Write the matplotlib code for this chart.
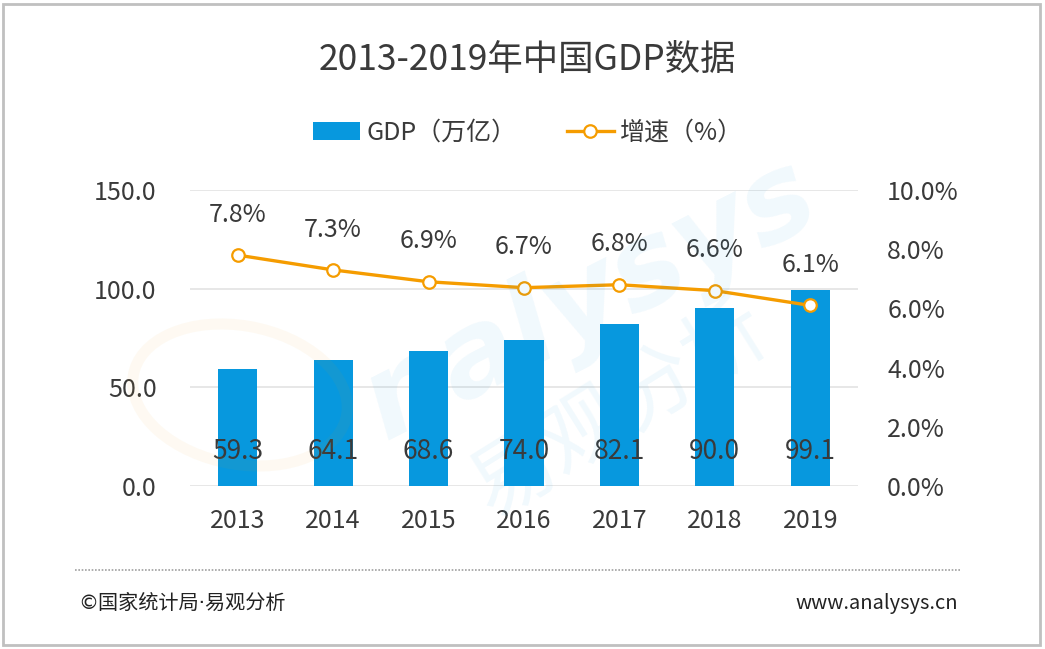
import matplotlib
matplotlib.use("Agg")
import matplotlib.pyplot as plt
from matplotlib.patches import Rectangle, Patch, Ellipse
from matplotlib.lines import Line2D
from matplotlib.ticker import FuncFormatter

plt.rcParams['font.family'] = ['Noto Sans CJK SC', 'DejaVu Sans']

years = ['2013', '2014', '2015', '2016', '2017', '2018', '2019']
gdp = [59.3, 64.1, 68.6, 74.0, 82.1, 90.0, 99.1]
growth = [7.8, 7.3, 6.9, 6.7, 6.8, 6.6, 6.1]
left_ticks = [0, 50, 100, 150]
right_ticks = [0, 2, 4, 6, 8, 10]

BLUE = '#0798DE'
ORANGE = '#F59C00'
TXT = '#3a3a3a'
W, H = 1045, 649

fig = plt.figure(figsize=(W / 100, H / 100), dpi=100)
fig.patch.set_facecolor('white')

def fx(px):
    return px / W

def fy(py):
    return 1 - py / H

ax = fig.add_axes([fx(190), fy(486), fx(858) - fx(190), fy(190) - fy(486)])
ax.set_facecolor('none')

# faint watermark
fig.text(fx(590), fy(300), 'nalysys', fontsize=84, rotation=27, color=BLUE, alpha=0.06,
         ha='center', va='center', style='italic', weight='bold', family=['DejaVu Sans'], zorder=0)
fig.text(fx(620), fy(410), '易观分析', fontsize=60, rotation=32, color=BLUE, alpha=0.06,
         ha='center', va='center', zorder=0)
fig.patches.append(Ellipse((fx(240), fy(395)), fx(200) - fx(0), fy(0) - fy(150), angle=35,
                           transform=fig.transFigure, fill=False, edgecolor=ORANGE,
                           alpha=0.05, lw=8, zorder=0))

x = list(range(len(years)))
ax.bar(x, gdp, width=0.41, color=BLUE, zorder=3)
ax.set_xlim(-0.5, len(years) - 0.5)
ax.set_ylim(0, 150)
ax.set_yticks(left_ticks)
ax.yaxis.set_major_formatter(FuncFormatter(lambda v, p: f'{v:.1f}'))
ax.set_xticks(x)
ax.set_xticklabels(years)
ax.grid(axis='y', color='#e3e3e3', lw=1.2, zorder=0)
ax.set_axisbelow(True)
for s in ax.spines.values():
    s.set_visible(False)
ax.tick_params(axis='both', length=0, labelsize=18, colors=TXT)
ax.tick_params(axis='y', pad=24)
ax.tick_params(axis='x', pad=16)

for i, v in enumerate(gdp):
    ax.annotate(f'{v:.1f}', xy=(i, 0), xytext=(0, 24.5), textcoords='offset points',
                ha='center', va='center', fontsize=19, color=TXT, zorder=5)

ax2 = ax.twinx()
ax2.set_ylim(0, 10)
ax2.set_yticks(right_ticks)
ax2.yaxis.set_major_formatter(FuncFormatter(lambda v, p: f'{v:.1f}%'))
for s in ax2.spines.values():
    s.set_visible(False)
ax2.tick_params(axis='y', length=0, labelsize=18, colors=TXT, pad=21)
ax2.plot(x, growth, color=ORANGE, lw=2.4, marker='o', markersize=9,
         markerfacecolor='white', markeredgecolor=ORANGE, markeredgewidth=1.6, zorder=4)
for i, v in enumerate(growth):
    ax2.annotate(f'{v:.1f}%', xy=(i, v), xytext=(0, 29), textcoords='offset points',
                 ha='center', va='center', fontsize=18, color=TXT)

fig.text(fx(527), fy(60), '2013-2019年中国GDP数据', fontsize=25.5, color=TXT,
         ha='center', va='center')

handles = [Patch(facecolor=BLUE, edgecolor='none'),
           Line2D([0], [0], color=ORANGE, lw=2.4, marker='o', markersize=9,
                  markerfacecolor='white', markeredgecolor=ORANGE, markeredgewidth=1.6)]
fig.legend(handles, ['GDP（万亿）', '增速（%）'], loc='center', ncol=2,
           bbox_to_anchor=(fx(528), fy(133)), frameon=False, fontsize=18,
           handlelength=1.9, handleheight=0.72, handletextpad=0.25, columnspacing=2.0,
           labelcolor=TXT)

fig.lines.append(Line2D([fx(75), fx(960)], [fy(570), fy(570)], transform=fig.transFigure,
                        color='#a0a0a0', lw=1.2, linestyle=(0, (1, 1))))
fig.text(fx(78), fy(603), '©国家统计局·易观分析', fontsize=14.5, color='#222222',
         ha='left', va='center', family=['DejaVu Sans', 'Noto Sans CJK SC'])
fig.text(fx(958), fy(603), 'www.analysys.cn', fontsize=14.5, color='#222222',
         ha='right', va='center')

fig.patches.append(Rectangle((fx(3), fy(645)), fx(1040) - fx(3), fy(4) - fy(645),
                             transform=fig.transFigure, fill=False,
                             edgecolor='#c0c0c0', lw=2))

fig.savefig('out.png', dpi=100, facecolor='white')
